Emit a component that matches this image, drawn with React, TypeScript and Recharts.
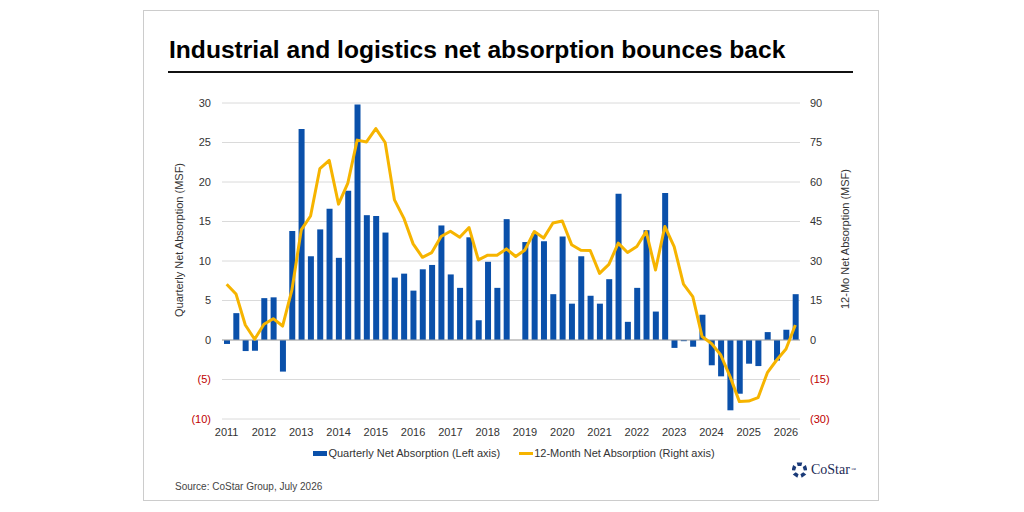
import React from 'react';
import {
  ComposedChart,
  Bar,
  Line,
  XAxis,
  YAxis,
  CartesianGrid,
  ReferenceLine,
  Legend,
} from 'recharts';

// Calendar years on the category axis (each has four quarters; 2026 has two so far)
const YEARS = ['2011', '2012', '2013', '2014', '2015', '2016', '2017', '2018', '2019', '2020', '2021', '2022', '2023', '2024', '2025', '2026'];
const QUARTERS_PER_YEAR = ['Q1', 'Q2', 'Q3', 'Q4'];

// Quarterly net absorption, millions of square feet (left axis)
const QUARTERLY = [
  -0.5, 3.4, -1.4, -1.35,
  5.3, 5.4, -4.0, 13.8,
  26.7, 10.6, 14.0, 16.6,
  10.4, 18.9, 29.8, 15.8,
  15.7, 13.6, 7.9, 8.4,
  6.25, 8.95, 9.5, 14.5,
  8.3, 6.6, 13.0, 2.5,
  9.9, 6.6, 15.3, 0,
  12.4, 13.5, 12.5, 5.8,
  13.1, 4.6, 10.6, 5.6,
  4.6, 7.7, 18.5, 2.3,
  6.6, 13.9, 3.6, 18.6,
  -1.0, -0.15, -0.85, 3.2,
  -3.2, -4.6, -8.9, -6.8,
  -3.0, -3.3, 1.0, -2.6,
  1.3, 5.8,
];

// Trailing 12-month net absorption, millions of square feet (right axis)
const TWELVE_MONTH = [
  21.2, 17.5, 5.7, 0.3,
  6.0, 8.1, 5.3, 19.0,
  41.8, 47.1, 65.1, 68.2,
  51.6, 59.6, 75.9, 75.2,
  80.3, 75.0, 53.2, 46.3,
  36.5, 31.4, 33.2, 39.3,
  41.3, 39.0, 42.7, 30.4,
  32.2, 32.2, 34.6, 31.7,
  34.2, 41.2, 38.7, 44.4,
  45.2, 36.2, 34.1, 34.0,
  25.3, 28.7, 36.8, 33.2,
  35.5, 41.2, 26.6, 43.1,
  35.5, 21.2, 16.5, 1.3,
  -1.3, -5.7, -13.9, -23.4,
  -23.2, -21.9, -12.4, -7.6,
  -3.4, 5.7,
];

const LEFT_TICKS = [-10, -5, 0, 5, 10, 15, 20, 25, 30];
const RIGHT_TICKS = [-30, -15, 0, 15, 30, 45, 60, 75, 90];

const QUARTER_LABELS: string[] = [];
YEARS.forEach((y) => QUARTERS_PER_YEAR.forEach((q) => QUARTER_LABELS.push(`${y} ${q}`)));

const data = QUARTERLY.map((v, i) => ({
  quarter: QUARTER_LABELS[i],
  quarterly: v,
  twelveMonth: TWELVE_MONTH[i],
}));

const FONT = '"Liberation Sans", Arial, sans-serif';
const BLUE = '#0a50aa';
const GOLD = '#f6b400';
const RED = '#c00000';
const TEXT = '#333333';

const ValueTick = (props: any) => {
  const { x, y, payload, textAnchor } = props;
  const v = payload.value as number;
  const neg = v < 0;
  return (
    <text
      x={x}
      y={y}
      dy="0.355em"
      textAnchor={textAnchor}
      fontSize={11}
      fontFamily={FONT}
      fill={neg ? RED : TEXT}
    >
      {neg ? `(${-v})` : `${v}`}
    </text>
  );
};

const YearTick = (props: any) => {
  const { x, y, payload } = props;
  return (
    <text x={x} y={y} dy="0.71em" textAnchor="middle" fontSize={11} fontFamily={FONT} fill={TEXT}>
      {String(payload.value).slice(0, 4)}
    </text>
  );
};

const LegendContent = () => (
  <div
    style={{
      display: 'flex',
      justifyContent: 'center',
      alignItems: 'center',
      fontFamily: FONT,
      fontSize: 11,
      color: TEXT,
      gap: 19,
      paddingLeft: 4,
    }}
  >
    <div style={{ display: 'flex', alignItems: 'center' }}>
      <span style={{ display: 'inline-block', width: 14, height: 5, background: BLUE, marginRight: 1 }} />
      <span>Quarterly Net Absorption (Left axis)</span>
    </div>
    <div style={{ display: 'flex', alignItems: 'center' }}>
      <span style={{ display: 'inline-block', width: 14, height: 3, background: GOLD, marginRight: 1 }} />
      <span>12-Month Net Absorption (Right axis)</span>
    </div>
  </div>
);

const CoStarMark = () => (
  <svg width={15} height={16} viewBox="-7.5 -8 15 16" style={{ display: 'block' }}>
    {[0, 72, 144, 216, 288].map((a) => (
      <polygon key={a} points="-2.8,-7.6 2.8,-7.6 1.8,-4 -1.8,-4" fill="#1a3a78" transform={`rotate(${a})`} />
    ))}
  </svg>
);

export default function App() {
  return (
    <div style={{ position: 'absolute', left: 0, top: 0, width: 1024, height: 512, background: '#ffffff', overflow: 'hidden' }}>
      {/* card frame */}
      <div
        style={{
          position: 'absolute',
          left: 143,
          top: 10,
          width: 736,
          height: 491,
          border: '1px solid #cccccc',
          boxSizing: 'border-box',
        }}
      />
      <div
        style={{
          position: 'absolute',
          left: 169,
          top: 38,
          fontFamily: FONT,
          fontWeight: 700,
          fontSize: 24.6,
          lineHeight: '24.6px',
          color: '#000',
          whiteSpace: 'nowrap',
        }}
      >
        Industrial and logistics net absorption bounces back
      </div>
      <div style={{ position: 'absolute', left: 168, top: 71, width: 685, height: 1.5, background: '#111' }} />

      <div style={{ position: 'absolute', left: 0, top: 0 }}>
        <ComposedChart
          width={1024}
          height={512}
          data={data}
          margin={{ top: 103, right: 184, bottom: 47, left: 182 }}
          barCategoryGap={0}
        >
          <CartesianGrid yAxisId="left" vertical={false} stroke="#dadada" />
          <XAxis
            dataKey="quarter"
            interval={3}
            tickLine={false}
            axisLine={false}
            tickSize={0}
            tickMargin={9}
            height={30}
            tick={<YearTick />}
          />
          <YAxis
            yAxisId="left"
            domain={[-10, 30]}
            ticks={LEFT_TICKS}
            interval={0}
            tickLine={false}
            axisLine={false}
            tickSize={0}
            tickMargin={11}
            width={40}
            tick={<ValueTick />}
          />
          <YAxis
            yAxisId="right"
            orientation="right"
            domain={[-30, 90]}
            ticks={RIGHT_TICKS}
            interval={0}
            tickLine={false}
            axisLine={false}
            tickSize={0}
            tickMargin={10}
            width={40}
            tick={<ValueTick />}
          />
          <ReferenceLine yAxisId="left" y={0} stroke="#a6a6a6" strokeWidth={1} />
          <Bar yAxisId="left" dataKey="quarterly" fill={BLUE} barSize={6} isAnimationActive={false} />
          <Line
            yAxisId="right"
            dataKey="twelveMonth"
            type="linear"
            stroke={GOLD}
            strokeWidth={3}
            dot={false}
            activeDot={false}
            strokeLinejoin="round"
            isAnimationActive={false}
          />
          <Legend
            content={<LegendContent />}
            wrapperStyle={{ position: 'absolute', left: 0, top: 447, width: 1024, height: 16 }}
          />
        </ComposedChart>
      </div>

      {/* axis titles */}
      <div
        style={{
          position: 'absolute',
          left: 179,
          top: 240,
          transform: 'translate(-50%, -50%) rotate(-90deg)',
          fontFamily: FONT,
          fontSize: 11,
          color: TEXT,
          whiteSpace: 'nowrap',
        }}
      >
        Quarterly Net Absorption (MSF)
      </div>
      <div
        style={{
          position: 'absolute',
          left: 845,
          top: 239,
          transform: 'translate(-50%, -50%) rotate(-90deg)',
          fontFamily: FONT,
          fontSize: 11,
          color: TEXT,
          whiteSpace: 'nowrap',
        }}
      >
        12-Mo Net Absorption (MSF)
      </div>

      {/* footer */}
      <div
        style={{
          position: 'absolute',
          left: 175,
          top: 481,
          fontFamily: FONT,
          fontSize: 10,
          lineHeight: '12px',
          color: '#444',
          whiteSpace: 'nowrap',
        }}
      >
        Source: CoStar Group, July 2026
      </div>
      <div style={{ position: 'absolute', left: 792, top: 462, display: 'flex', alignItems: 'center', gap: 4 }}>
        <CoStarMark />
        <span style={{ fontFamily: '"Liberation Serif", "Times New Roman", serif', fontSize: 14, color: '#1c2a55', lineHeight: '16px' }}>
          CoStar
          <sup style={{ fontSize: 5, verticalAlign: 'top', marginLeft: 1 }}>™</sup>
        </span>
      </div>
    </div>
  );
}
